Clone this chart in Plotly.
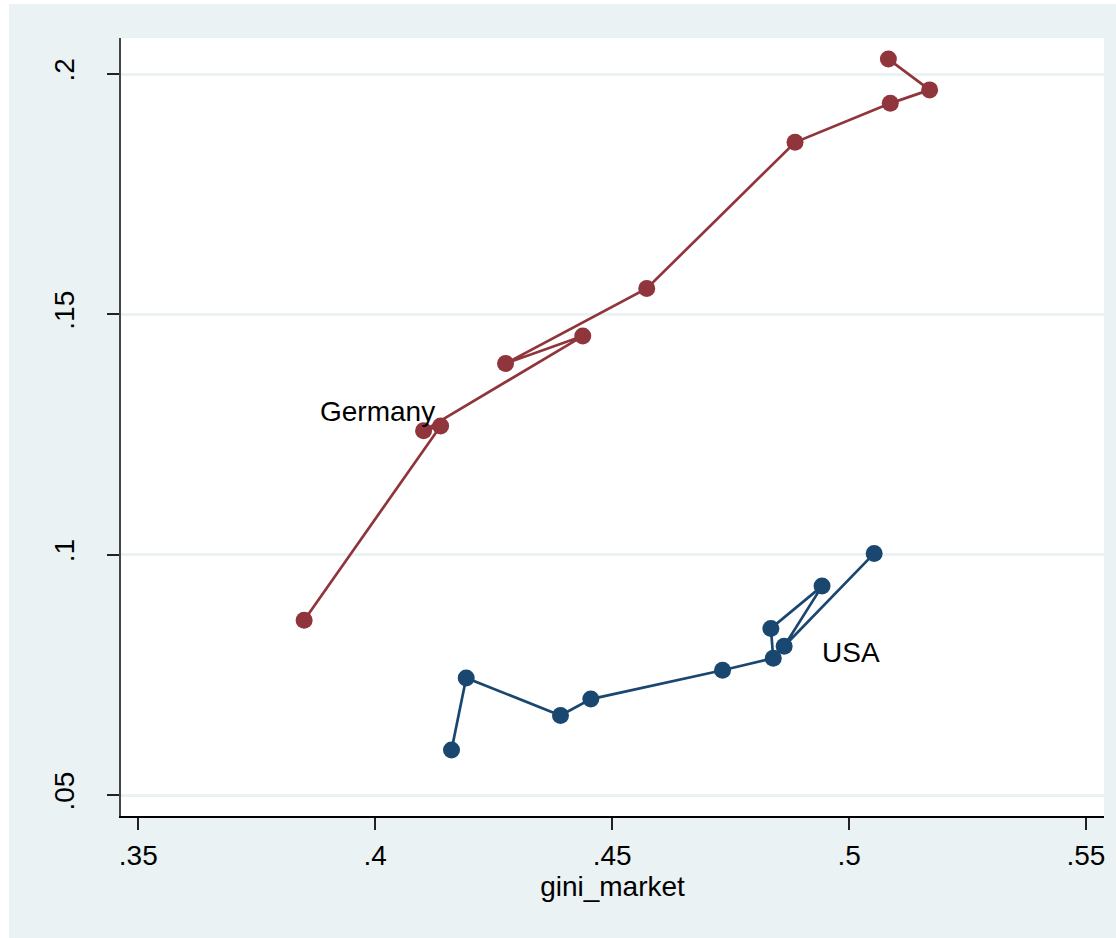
import plotly.graph_objects as go

# Germany: market Gini vs. outcome, connected in time order
germany_gini = [0.3850, 0.4138, 0.4102, 0.4438, 0.4275, 0.4573, 0.4886, 0.5087, 0.5170, 0.5083]
germany_y = [0.0864, 0.1268, 0.1258, 0.1455, 0.1398, 0.1554, 0.1858, 0.1939, 0.1967, 0.2031]

# USA
usa_gini = [0.4161, 0.4192, 0.4391, 0.4455, 0.4733, 0.4840, 0.4835, 0.4943, 0.4863, 0.5053]
usa_y = [0.0594, 0.0744, 0.0666, 0.0700, 0.0760, 0.0785, 0.0847, 0.0935, 0.0810, 0.1003]

x_ticks = [0.35, 0.40, 0.45, 0.50, 0.55]
x_ticklabels = [".35", ".4", ".45", ".5", ".55"]
y_ticks = [0.05, 0.10, 0.15, 0.20]
y_ticklabels = [".05", ".1", ".15", ".2"]

MAROON = "#90353B"
NAVY = "#1A476F"
BLUISH = "#EAF2F3"
FONT = "Liberation Sans, Arial, sans-serif"

fig = go.Figure()
fig.add_trace(go.Scatter(
    x=germany_gini, y=germany_y, mode="lines+markers", name="Germany",
    line=dict(color=MAROON, width=2.7),
    marker=dict(color=MAROON, size=17),
))
fig.add_trace(go.Scatter(
    x=usa_gini, y=usa_y, mode="lines+markers", name="USA",
    line=dict(color=NAVY, width=2.7),
    marker=dict(color=NAVY, size=17),
))

fig.add_annotation(x=0.3879, y=0.1299, text="Germany", showarrow=False,
                   xanchor="left", yanchor="middle",
                   font=dict(family=FONT, size=28, color="black"))
fig.add_annotation(x=0.4939, y=0.0797, text="USA", showarrow=False,
                   xanchor="left", yanchor="middle",
                   font=dict(family=FONT, size=28, color="black"))

# thin white border around the graph region
fig.add_shape(type="rect", xref="paper", yref="paper",
              x0=-0.3, x1=-0.1139, y0=-0.5, y1=1.2,
              fillcolor="white", line=dict(width=0), layer="above")
fig.add_shape(type="rect", xref="paper", yref="paper",
              x0=-0.3, x1=1.3, y0=1.0437, y1=1.2,
              fillcolor="white", line=dict(width=0), layer="above")

fig.update_layout(
    width=1116, height=938,
    margin=dict(l=121, r=12, t=38, b=122),
    paper_bgcolor=BLUISH, plot_bgcolor="white",
    showlegend=False,
    font=dict(family=FONT, size=28, color="black"),
    xaxis=dict(
        range=[0.34635, 0.5538],
        tickvals=x_ticks, ticktext=x_ticklabels,
        ticks="outside", ticklen=12, tickwidth=2, tickcolor="#222222",
        showline=True, linecolor="black", linewidth=2,
        showgrid=False, zeroline=False,
        tickfont=dict(family=FONT, size=28),
        ticklabelstandoff=1,
        title=dict(text="gini_market", font=dict(family=FONT, size=28), standoff=4),
    ),
    yaxis=dict(
        range=[0.04569, 0.20749],
        tickvals=y_ticks, ticktext=y_ticklabels, tickangle=-90,
        ticks="outside", ticklen=12, tickwidth=2, tickcolor="#222222",
        showline=True, linecolor="#444444", linewidth=2,
        showgrid=True, gridcolor=BLUISH, gridwidth=3,
        zeroline=False,
        tickfont=dict(family=FONT, size=28),
        ticklabelstandoff=22,
    ),
)

fig.write_html("out.html")
